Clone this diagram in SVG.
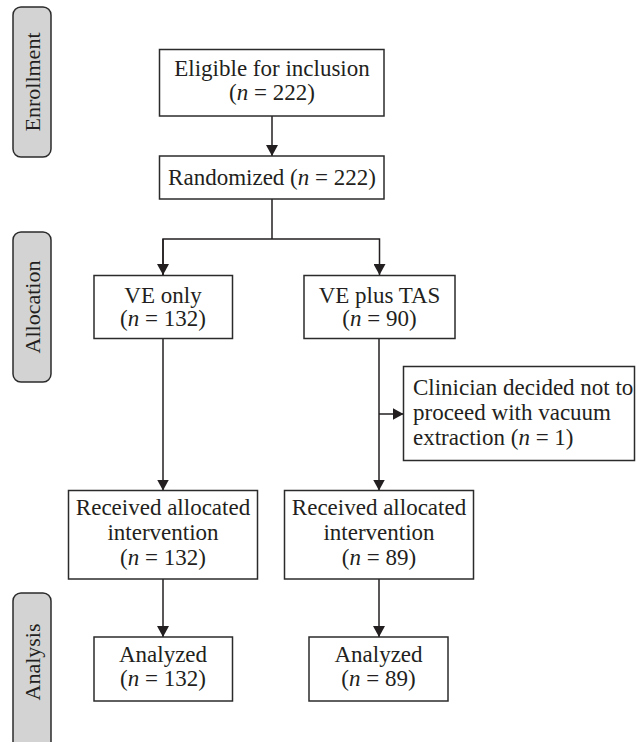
<svg xmlns="http://www.w3.org/2000/svg" width="636" height="742" viewBox="0 0 636 742">
<style>
.box{fill:#fff;stroke:#2b2b2b;stroke-width:1.5}
.side{fill:#d3d3d3;stroke:#2b2b2b;stroke-width:1.5}
.t{font-family:"Liberation Serif","Times New Roman",serif;font-size:23px;fill:#231f20;text-anchor:middle}
.tl{font-family:"Liberation Serif","Times New Roman",serif;font-size:23px;fill:#231f20;text-anchor:start}
.s{font-family:"Liberation Serif","Times New Roman",serif;font-size:22px;fill:#231f20;text-anchor:middle}
.c{fill:none;stroke:#231f20;stroke-width:1.5}
.i{font-style:italic}
</style>
<defs>
<marker id="ah" markerUnits="userSpaceOnUse" markerWidth="12" markerHeight="12" refX="11" refY="6" orient="auto">
<path d="M0,0 L11,6 L0,12 z" fill="#231f20"/>
</marker>
</defs>

<g id="label-enrollment">
<rect class="side" x="13" y="7" width="38" height="150" rx="8"/>
<text class="s" transform="translate(40,82) rotate(-90)">Enrollment</text>
</g>
<g id="label-allocation">
<rect class="side" x="13" y="232" width="38" height="150" rx="8"/>
<text class="s" transform="translate(40,307) rotate(-90)">Allocation</text>
</g>
<g id="label-analysis">
<rect class="side" x="13" y="593" width="38" height="160" rx="8"/>
<text class="s" transform="translate(40,662) rotate(-90)">Analysis</text>
</g>

<g id="connectors">
<line class="c" x1="272" y1="116" x2="272" y2="156" marker-end="url(#ah)"/>
<polyline class="c" points="272,199 272,239"/>
<polyline class="c" points="163,275 163,239 379.5,239 379.5,275" marker-end="url(#ah)"/>
<line class="c" x1="163" y1="239" x2="163" y2="275" marker-end="url(#ah)"/>
<line class="c" x1="163" y1="338" x2="163" y2="490.5" marker-end="url(#ah)"/>
<line class="c" x1="379" y1="338" x2="379" y2="490.5" marker-end="url(#ah)"/>
<line class="c" x1="379" y1="414" x2="403.5" y2="414" marker-end="url(#ah)"/>
<line class="c" x1="163" y1="579" x2="163" y2="637" marker-end="url(#ah)"/>
<line class="c" x1="379" y1="579" x2="379" y2="637" marker-end="url(#ah)"/>
</g>

<g id="eligible">
<rect class="box" x="159.5" y="49.5" width="224.5" height="66.5"/>
<text class="t" x="272" y="76">Eligible for inclusion</text>
<text class="t" x="272" y="100">(<tspan class="i">n</tspan> = 222)</text>
</g>
<g id="randomized">
<rect class="box" x="159.5" y="156" width="224.5" height="43"/>
<text class="t" x="272" y="185">Randomized (<tspan class="i">n</tspan> = 222)</text>
</g>
<g id="ve-only">
<rect class="box" x="94" y="275.5" width="138.5" height="63"/>
<text class="t" x="163" y="303">VE only</text>
<text class="t" x="163" y="326">(<tspan class="i">n</tspan> = 132)</text>
</g>
<g id="ve-plus-tas">
<rect class="box" x="304" y="275.5" width="151" height="63"/>
<text class="t" x="379.5" y="303">VE plus TAS</text>
<text class="t" x="379.5" y="326">(<tspan class="i">n</tspan> = 90)</text>
</g>
<g id="clinician">
<rect class="box" x="403.5" y="366.5" width="231" height="94"/>
<text class="tl" x="413" y="395">Clinician decided not to</text>
<text class="tl" x="413" y="420">proceed with vacuum</text>
<text class="tl" x="413" y="445">extraction (<tspan class="i">n</tspan> = 1)</text>
</g>
<g id="received-ve">
<rect class="box" x="68.5" y="490.5" width="189" height="88.5"/>
<text class="t" x="163" y="515">Received allocated</text>
<text class="t" x="163" y="540">intervention</text>
<text class="t" x="163" y="565">(<tspan class="i">n</tspan> = 132)</text>
</g>
<g id="received-tas">
<rect class="box" x="284.5" y="490.5" width="189" height="88.5"/>
<text class="t" x="379" y="515">Received allocated</text>
<text class="t" x="379" y="540">intervention</text>
<text class="t" x="379" y="565">(<tspan class="i">n</tspan> = 89)</text>
</g>
<g id="analyzed-ve">
<rect class="box" x="94" y="637" width="138.5" height="64"/>
<text class="t" x="163" y="662">Analyzed</text>
<text class="t" x="163" y="686">(<tspan class="i">n</tspan> = 132)</text>
</g>
<g id="analyzed-tas">
<rect class="box" x="309" y="637" width="139" height="64"/>
<text class="t" x="378.5" y="662">Analyzed</text>
<text class="t" x="378.5" y="686">(<tspan class="i">n</tspan> = 89)</text>
</g>
</svg>
